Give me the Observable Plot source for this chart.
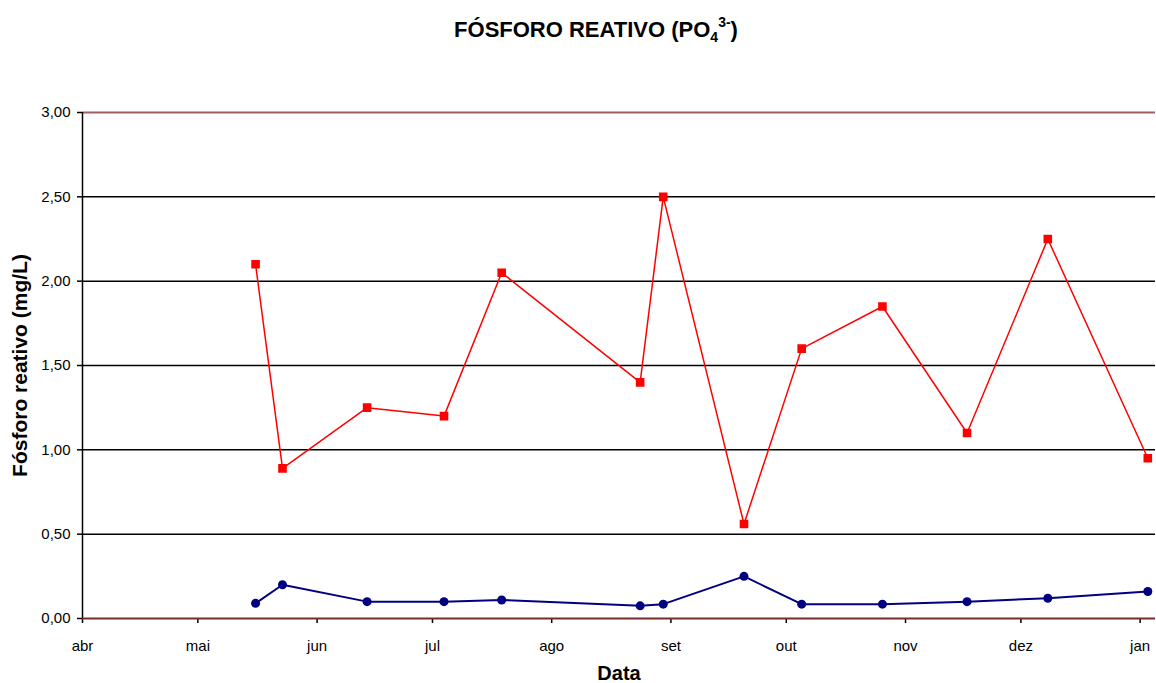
<!DOCTYPE html>
<html>
<head>
<meta charset="utf-8">
<script src="https://cdn.jsdelivr.net/npm/d3@7"></script>
<script src="https://cdn.jsdelivr.net/npm/@observablehq/plot@0.6"></script>
<style>
  html, body { margin: 0; padding: 0; background: #fff; }
  #title {
    height: 46px; width: 1156px; box-sizing: border-box; padding-left: 36px; padding-top: 18px;
    text-align: center; white-space: nowrap;
    font-family: "Liberation Sans", Arial, sans-serif; font-weight: bold; font-size: 22px;
    line-height: 24px; color: #000;
  }
  #title sub, #title sup { font-size: 14px; line-height: 0; }
  #title sub { vertical-align: -5px; }
  #title sup { vertical-align: 10px; }
  #chart svg { display: block; }
</style>
</head>
<body>
<div id="title">FÓSFORO REATIVO (PO<sub>4</sub><sup>3-</sup>)</div>
<div id="chart"></div>
<script>
// ---- data ----
const dates = ["2004-05-16","2004-05-23","2004-06-14","2004-07-04","2004-07-19","2004-08-24","2004-08-30",
               "2004-09-20","2004-10-05","2004-10-26","2004-11-17","2004-12-08","2005-01-03"];
const redValues  = [2.10, 0.89, 1.25, 1.20, 2.05, 1.40, 2.50, 0.56, 1.60, 1.85, 1.10, 2.25, 0.95];
const blueValues = [0.09, 0.20, 0.10, 0.10, 0.11, 0.075, 0.085, 0.25, 0.085, 0.085, 0.10, 0.12, 0.16];
const monthTicks = ["2004-04-01","2004-05-01","2004-06-01","2004-07-01","2004-08-01","2004-09-01",
                    "2004-10-01","2004-11-01","2004-12-01","2005-01-01"];
const monthLabels = ["abr","mai","jun","jul","ago","set","out","nov","dez","jan"];
const yTicks = [0, 0.5, 1, 1.5, 2, 2.5, 3];
const xTitle = "Data";
const yTitle = "Fósforo reativo (mg/L)";

const red = dates.map((d, i) => ({date: new Date(d), value: redValues[i]}));
const blue = dates.map((d, i) => ({date: new Date(d), value: blueValues[i]}));
const tickDates = monthTicks.map(d => new Date(d));
const start = new Date("2004-04-01");
const end = new Date("2005-01-05");
const fmtY = d => d.toFixed(2).replace(".", ",");
const fmtX = d => monthLabels[tickDates.findIndex(t => +t === +d)];

const font = "'Liberation Sans', Arial, sans-serif";

const chart = Plot.plot({
  width: 1156, height: 637,
  marginLeft: 82, marginRight: 1, marginTop: 66, marginBottom: 65,
  style: {fontFamily: font, fontSize: "15px", color: "#000", background: "#fff", overflow: "visible"},
  x: {type: "utc", domain: [start, end]},
  y: {domain: [0, 3]},
  marks: [
    Plot.ruleY(yTicks.filter(v => v > 0 && v < 3), {stroke: "#000", strokeWidth: 1.5}),
    Plot.ruleY([3], {stroke: "#a06060", strokeWidth: 2}),
    Plot.ruleX([start], {stroke: "#000", strokeWidth: 1.5}),
    Plot.axisY({ticks: yTicks, tickFormat: fmtY, tickSize: 5, tickPadding: 7, label: null, strokeWidth: 1.5, fontSize: 15}),
    Plot.axisX({ticks: tickDates, tickFormat: fmtX, tickSize: 5, tickPadding: 17, label: null, strokeWidth: 1.5, fontSize: 15}),
    Plot.ruleY([0], {stroke: "#7a2a2a", strokeWidth: 2}),
    Plot.line(blue, {x: "date", y: "value", stroke: "#000080", strokeWidth: 2}),
    Plot.dot(blue, {x: "date", y: "value", fill: "#000080", r: 4.5, symbol: "circle"}),
    Plot.line(red, {x: "date", y: "value", stroke: "#ff0000", strokeWidth: 1.5}),
    Plot.dot(red, {x: "date", y: "value", fill: "#ff0000", stroke: "#ff0000", r: 4, symbol: "square"}),
    Plot.text([xTitle], {frameAnchor: "bottom", lineAnchor: "middle", dy: 55, fontWeight: "bold", fontSize: 20, fill: "#000"}),
    Plot.text([yTitle], {frameAnchor: "left", textAnchor: "middle", lineAnchor: "middle", rotate: -90, dx: -62, fontWeight: "bold", fontSize: 21, fill: "#000"})
  ]
});
document.getElementById("chart").appendChild(chart);
</script>
</body>
</html>
